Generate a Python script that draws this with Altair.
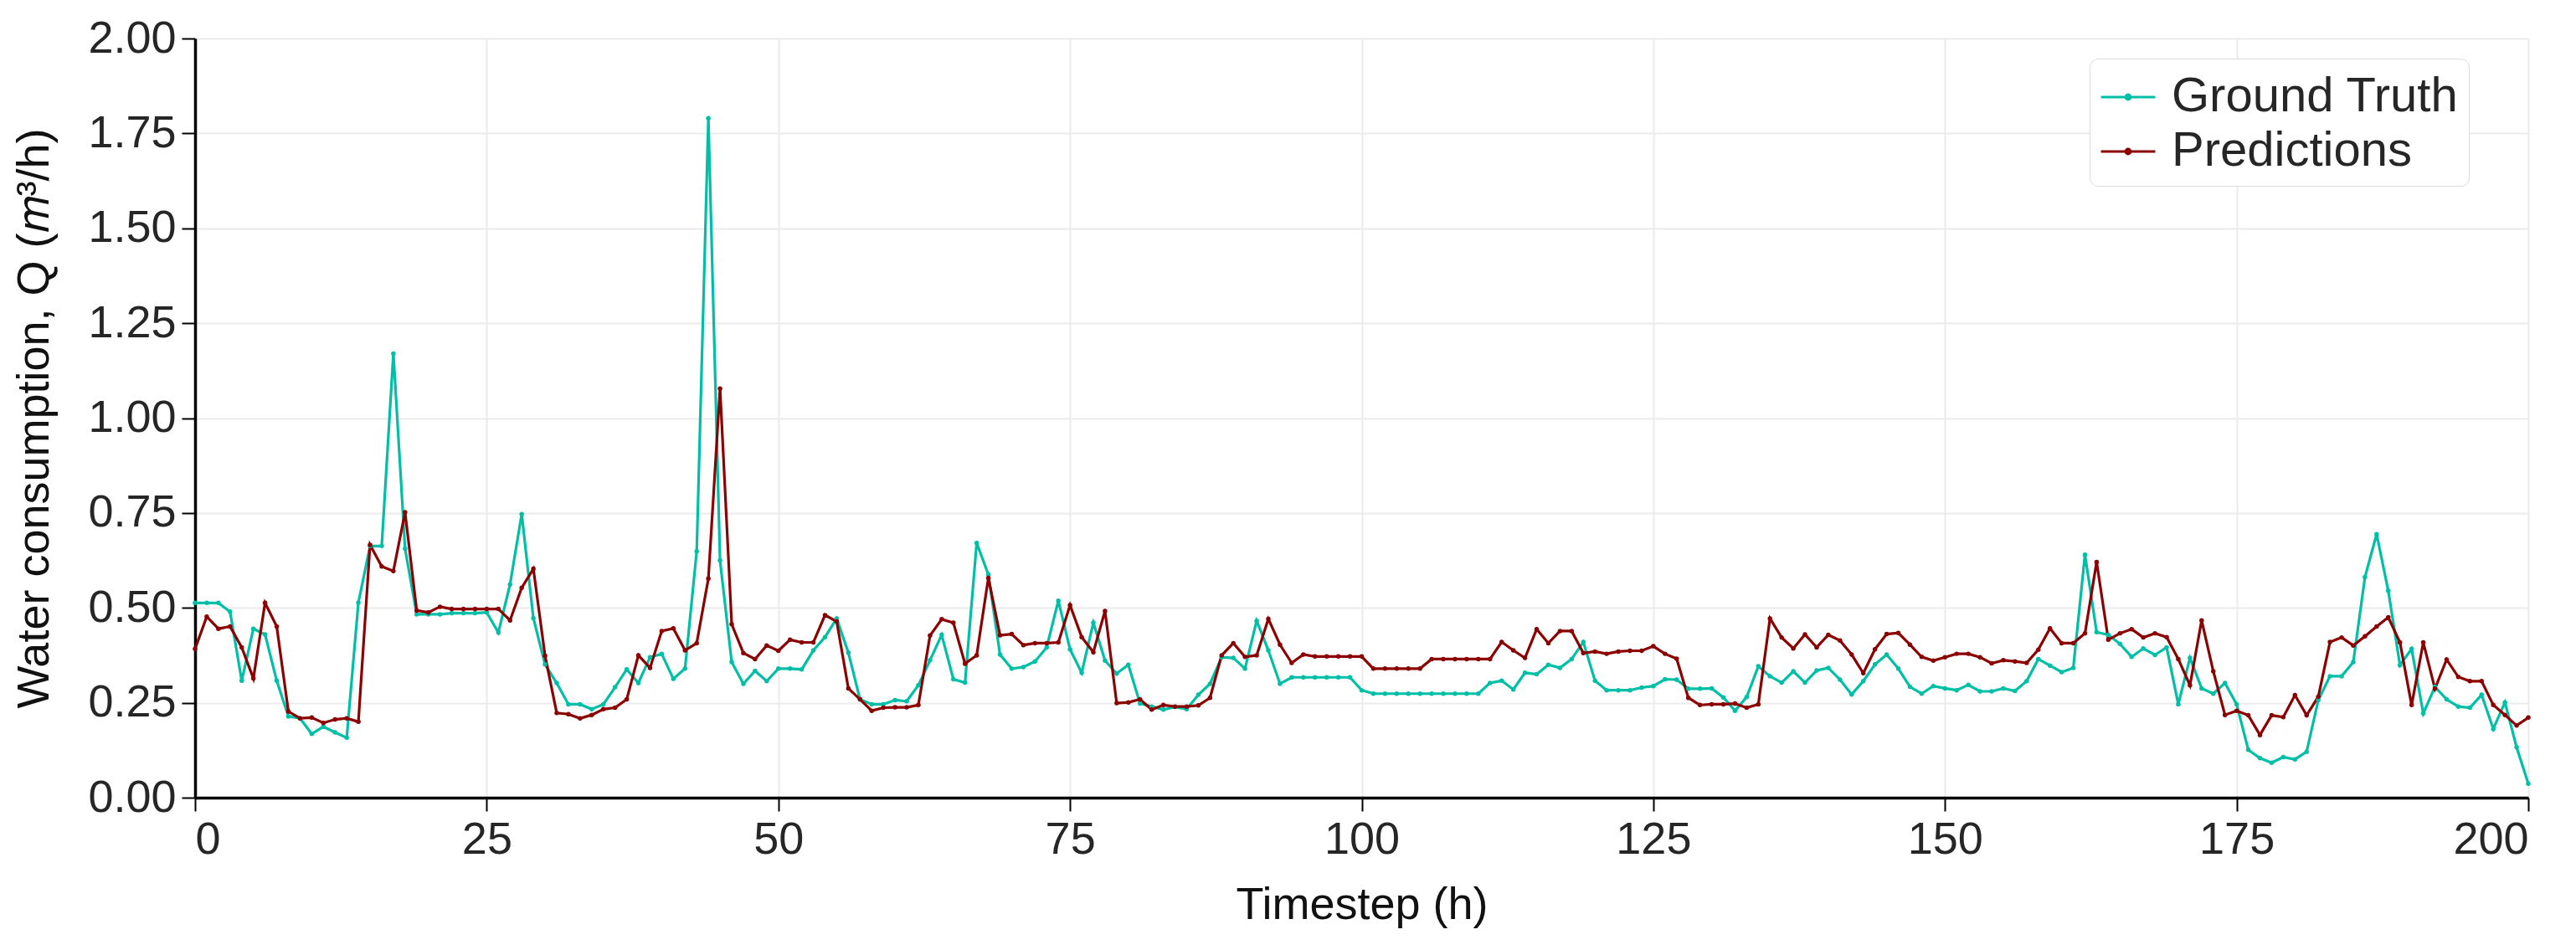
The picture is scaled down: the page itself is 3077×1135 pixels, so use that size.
import altair as alt
import pandas as pd

timesteps = list(range(201))

ground_truth = [
    0.513, 0.513, 0.513, 0.490, 0.308, 0.445, 0.430, 0.308, 0.214, 0.209,
    0.168, 0.187, 0.172, 0.158, 0.514, 0.663, 0.663, 1.170, 0.656, 0.483,
    0.483, 0.483, 0.486, 0.486, 0.486, 0.488, 0.435, 0.562, 0.747, 0.473,
    0.351, 0.302, 0.246, 0.246, 0.233, 0.246, 0.291, 0.338, 0.302, 0.370,
    0.379, 0.313, 0.340, 0.649, 1.790, 0.625, 0.357, 0.300, 0.334, 0.307,
    0.340, 0.340, 0.338, 0.388, 0.423, 0.472, 0.382, 0.259, 0.246, 0.246,
    0.257, 0.254, 0.296, 0.362, 0.429, 0.312, 0.303, 0.671, 0.588, 0.377,
    0.340, 0.344, 0.359, 0.396, 0.519, 0.391, 0.329, 0.461, 0.361, 0.327,
    0.350, 0.248, 0.240, 0.232, 0.239, 0.233, 0.271, 0.300, 0.370, 0.368,
    0.340, 0.466, 0.388, 0.300, 0.317, 0.317, 0.317, 0.317, 0.317, 0.317,
    0.283, 0.274, 0.274, 0.274, 0.274, 0.274, 0.274, 0.274, 0.274, 0.274,
    0.274, 0.302, 0.308, 0.285, 0.329, 0.325, 0.350, 0.342, 0.365, 0.410,
    0.308, 0.283, 0.283, 0.283, 0.290, 0.294, 0.312, 0.311, 0.287, 0.287,
    0.288, 0.264, 0.229, 0.265, 0.346, 0.320, 0.303, 0.333, 0.303, 0.335,
    0.342, 0.311, 0.272, 0.307, 0.351, 0.377, 0.340, 0.292, 0.274, 0.294,
    0.288, 0.283, 0.297, 0.280, 0.280, 0.288, 0.281, 0.307, 0.365, 0.348,
    0.331, 0.342, 0.640, 0.436, 0.429, 0.405, 0.371, 0.393, 0.376, 0.396,
    0.246, 0.368, 0.288, 0.274, 0.302, 0.246, 0.126, 0.104, 0.092, 0.107,
    0.101, 0.121, 0.257, 0.320, 0.320, 0.357, 0.581, 0.694, 0.545, 0.349,
    0.392, 0.222, 0.292, 0.259, 0.240, 0.237, 0.271, 0.181, 0.251, 0.133,
    0.037,
]

predictions = [
    0.392, 0.477, 0.445, 0.451, 0.396, 0.314, 0.513, 0.451, 0.227, 0.209,
    0.211, 0.197, 0.206, 0.209, 0.200, 0.666, 0.609, 0.597, 0.752, 0.493,
    0.488, 0.503, 0.497, 0.497, 0.497, 0.497, 0.497, 0.467, 0.553, 0.603,
    0.374, 0.223, 0.220, 0.209, 0.218, 0.233, 0.237, 0.259, 0.375, 0.342,
    0.439, 0.446, 0.388, 0.407, 0.577, 1.078, 0.457, 0.381, 0.365, 0.401,
    0.387, 0.416, 0.409, 0.409, 0.481, 0.464, 0.288, 0.259, 0.229, 0.237,
    0.238, 0.238, 0.244, 0.427, 0.470, 0.461, 0.353, 0.375, 0.579, 0.428,
    0.431, 0.402, 0.407, 0.407, 0.409, 0.507, 0.423, 0.383, 0.492, 0.249,
    0.251, 0.259, 0.232, 0.244, 0.240, 0.240, 0.243, 0.263, 0.375, 0.407,
    0.371, 0.375, 0.471, 0.403, 0.355, 0.377, 0.372, 0.372, 0.372, 0.372,
    0.372, 0.340, 0.340, 0.340, 0.340, 0.340, 0.365, 0.365, 0.365, 0.365,
    0.365, 0.365, 0.410, 0.388, 0.368, 0.444, 0.407, 0.439, 0.439, 0.381,
    0.385, 0.379, 0.385, 0.387, 0.387, 0.399, 0.379, 0.366, 0.263, 0.244,
    0.246, 0.246, 0.248, 0.237, 0.246, 0.472, 0.422, 0.393, 0.430, 0.396,
    0.429, 0.414, 0.377, 0.328, 0.391, 0.431, 0.434, 0.403, 0.371, 0.361,
    0.370, 0.379, 0.379, 0.370, 0.354, 0.362, 0.359, 0.355, 0.390, 0.446,
    0.407, 0.407, 0.433, 0.621, 0.416, 0.433, 0.444, 0.422, 0.433, 0.423,
    0.365, 0.296, 0.467, 0.333, 0.218, 0.229, 0.217, 0.165, 0.217, 0.212,
    0.270, 0.217, 0.266, 0.410, 0.422, 0.401, 0.425, 0.451, 0.475, 0.409,
    0.244, 0.409, 0.287, 0.364, 0.318, 0.307, 0.307, 0.244, 0.218, 0.190,
    0.211,
]

series_names = ["Ground Truth", "Predictions"]
series_colors = ["#00BFA6", "#8B0000"]
x_ticks = [0, 25, 50, 75, 100, 125, 150, 175, 200]
y_ticks = [0.0, 0.25, 0.5, 0.75, 1.0, 1.25, 1.5, 1.75, 2.0]

df = pd.concat([
    pd.DataFrame({"t": timesteps, "q": ground_truth, "series": series_names[0]}),
    pd.DataFrame({"t": timesteps, "q": predictions, "series": series_names[1]}),
])

FONT = "Liberation Sans"
legend_symbol = "M-1,0L1,0M-0.09,0A0.09,0.09,0,1,1,0.09,0A0.09,0.09,0,1,1,-0.09,0"

color = alt.Color(
    "series:N",
    scale=alt.Scale(domain=series_names, range=series_colors),
    legend=alt.Legend(
        orient="none", legendX=2263, legendY=24, title=None,
        symbolType=legend_symbol, symbolSize=4200, symbolStrokeWidth=3,
        labelFontSize=58, labelFont=FONT, labelColor="#262626", labelLimit=0,
        labelOffset=18, padding=12, rowPadding=2, cornerRadius=10,
        strokeColor="#dcdcdc", fillColor="white",
    ),
)

x = alt.X(
    "t:Q", scale=alt.Scale(domain=[0, 200], nice=False, zero=False),
    axis=alt.Axis(values=x_ticks, title="Timestep (h)", format="d"),
)
y = alt.Y(
    "q:Q", scale=alt.Scale(domain=[0, 2], nice=False),
    axis=alt.Axis(values=y_ticks, format=".2f",
                  title="Water consumption, Q (𝑚³/h)"),
)

chart = alt.Chart(df).mark_line(
    strokeWidth=3.2,
    point=alt.OverlayMarkDef(size=30, filled=True),
).encode(x=x, y=y, color=color, order="t:Q").properties(
    width=2787, height=907,
    autosize=alt.AutoSizeParams(type="none"),
    padding={"left": 225, "top": 38, "right": 49, "bottom": 160},
).configure_view(stroke=None).configure_axis(
    grid=True, gridColor="#ebebeb", gridWidth=2,
    domainColor="black", domainWidth=3.5,
    tickColor="black", tickSize=16, tickWidth=2,
    labelFont=FONT, labelFontSize=54, labelColor="#262626", labelPadding=7,
    titleFont=FONT, titleFontSize=54, titleFontWeight="normal", titleColor="#111111",
).configure_axisX(titlePadding=24).configure_axisY(titlePadding=36)

chart.save("out.html", embed_options={"renderer": "svg", "actions": False})
